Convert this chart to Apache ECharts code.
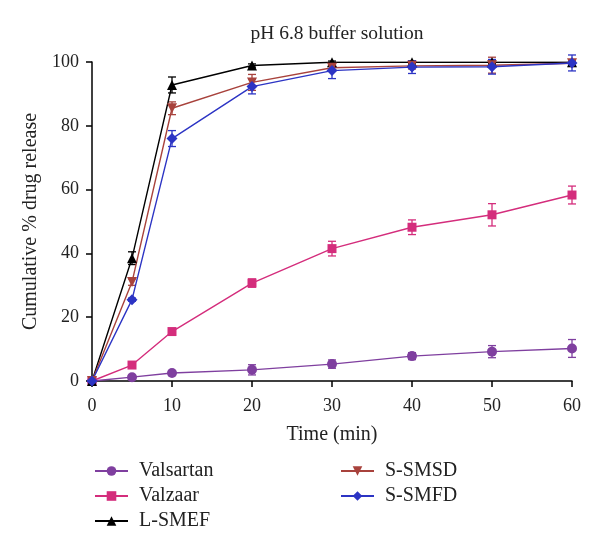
<!DOCTYPE html>
<html>
<head>
<meta charset="utf-8">
<script src="https://cdn.jsdelivr.net/npm/echarts@6/dist/echarts.min.js"></script>
<style>html,body{margin:0;padding:0;background:#fff}#c{width:600px;height:553px}</style>
</head>
<body>
<div id="c"></div>
<script>
const times = [0, 5, 10, 20, 30, 40, 50, 60];
const valsartan = [0, 1.2, 2.5, 3.5, 5.3, 7.8, 9.2, 10.2];
const valsartanErr = [0, 0.6, 0.5, 1.6, 1.3, 1.1, 1.9, 2.8];
const valzaar = [0, 5.0, 15.5, 30.7, 41.5, 48.2, 52.1, 58.3];
const valzaarErr = [0, 0.5, 0.5, 1.3, 2.3, 2.3, 3.5, 2.8];
const lsmef = [0, 38.5, 92.8, 98.9, 99.9, 99.9, 99.9, 99.9];
const lsmefErr = [0, 2.0, 2.5, 0.5, 0.4, 0.4, 0.4, 0.4];
const ssmsd = [0, 31.0, 85.5, 93.6, 98.2, 98.8, 99.0, 99.6];
const ssmsdErr = [0, 1.0, 2.0, 2.5, 1.0, 1.0, 2.5, 1.0];
const ssmfd = [0, 25.5, 76.0, 92.3, 97.3, 98.4, 98.5, 99.7];
const ssmfdErr = [0, 0.5, 2.5, 2.3, 2.5, 2.0, 2.3, 2.5];
const xTicks = [0, 10, 20, 30, 40, 50, 60];
const yTicks = [0, 20, 40, 60, 80, 100];

const font = 'Liberation Serif';
const seriesDefs = [
  {name: 'Valsartan', y: valsartan, e: valsartanErr, color: '#7f3f9f', symbol: 'circle', size: 10, rot: 0},
  {name: 'Valzaar', y: valzaar, e: valzaarErr, color: '#d42d7c', symbol: 'rect', size: 9, rot: 0},
  {name: 'L-SMEF', y: lsmef, e: lsmefErr, color: '#000000', symbol: 'triangle', size: 10, rot: 0},
  {name: 'S-SMSD', y: ssmsd, e: ssmsdErr, color: '#a8423c', symbol: 'triangle', size: 10, rot: 180},
  {name: 'S-SMFD', y: ssmfd, e: ssmfdErr, color: '#2c34c4', symbol: 'diamond', size: 11, rot: 0}
];

const series = [];
seriesDefs.forEach(function (d) {
  const errData = times.map(function (t, i) { return [t, d.y[i] - d.e[i], d.y[i] + d.e[i]]; });
  series.push({
    type: 'custom',
    name: d.name + ' err',
    data: errData,
    z: 1,
    silent: true,
    renderItem: function (params, api) {
      const x = api.value(0);
      const lo = api.coord([x, api.value(1)]);
      const hi = api.coord([x, api.value(2)]);
      const w = 4;
      const st = {stroke: d.color, lineWidth: 1.3};
      return {
        type: 'group',
        children: [
          {type: 'line', shape: {x1: lo[0], y1: lo[1], x2: hi[0], y2: hi[1]}, style: st},
          {type: 'line', shape: {x1: lo[0] - w, y1: lo[1], x2: lo[0] + w, y2: lo[1]}, style: st},
          {type: 'line', shape: {x1: hi[0] - w, y1: hi[1], x2: hi[0] + w, y2: hi[1]}, style: st}
        ]
      };
    }
  });
  series.push({
    type: 'line',
    name: d.name,
    data: times.map(function (t, i) { return [t, d.y[i]]; }),
    symbol: d.symbol,
    symbolSize: d.size,
    symbolRotate: d.rot,
    showAllSymbol: true,
    z: 3,
    lineStyle: {color: d.color, width: 1.4},
    itemStyle: {color: d.color},
    animation: false
  });
});

const legendBase = {
  orient: 'vertical',
  itemWidth: 33,
  itemHeight: 12,
  itemGap: 5,
  padding: 0,
  textStyle: {fontFamily: font, fontSize: 20, lineHeight: 20, color: '#222', padding: [0, 0, 0, 6]}
};

const chart = echarts.init(document.getElementById('c'), null, {renderer: 'canvas'});
chart.setOption({
  backgroundColor: '#fff',
  animation: false,
  title: {
    text: 'pH 6.8 buffer solution',
    left: 332, top: 19,
    textAlign: 'center',
    textStyle: {fontFamily: font, fontSize: 19.5, fontWeight: 'normal', color: '#222'}
  },
  grid: {left: 92, right: 28, top: 62, bottom: 172, containLabel: false},
  legend: [
    Object.assign({}, legendBase, {left: 94, top: 461, data: ['Valsartan', 'Valzaar', 'L-SMEF']}),
    Object.assign({}, legendBase, {left: 340, top: 461, data: ['S-SMSD', 'S-SMFD']})
  ],
  xAxis: {
    type: 'value', min: 0, max: 60, interval: 10,
    name: 'Time (min)', nameLocation: 'middle', nameGap: 44,
    nameTextStyle: {fontFamily: font, fontSize: 20, color: '#222'},
    axisLine: {lineStyle: {color: '#000', width: 1.5}},
    axisTick: {show: true, length: 6, lineStyle: {color: '#000', width: 1.5}},
    axisLabel: {fontFamily: font, fontSize: 18, color: '#222', margin: 16},
    splitLine: {show: false}
  },
  yAxis: {
    type: 'value', min: 0, max: 100, interval: 20,
    name: 'Cumulative % drug release', nameLocation: 'middle', nameGap: 48,
    nameTextStyle: {fontFamily: font, fontSize: 20, color: '#222'},
    axisLine: {show: true, lineStyle: {color: '#000', width: 1.5}},
    axisTick: {show: true, length: 6, lineStyle: {color: '#000', width: 1.5}},
    axisLabel: {fontFamily: font, fontSize: 18, color: '#222', margin: 13},
    splitLine: {show: false}
  },
  series: series
});
</script>
</body>
</html>
